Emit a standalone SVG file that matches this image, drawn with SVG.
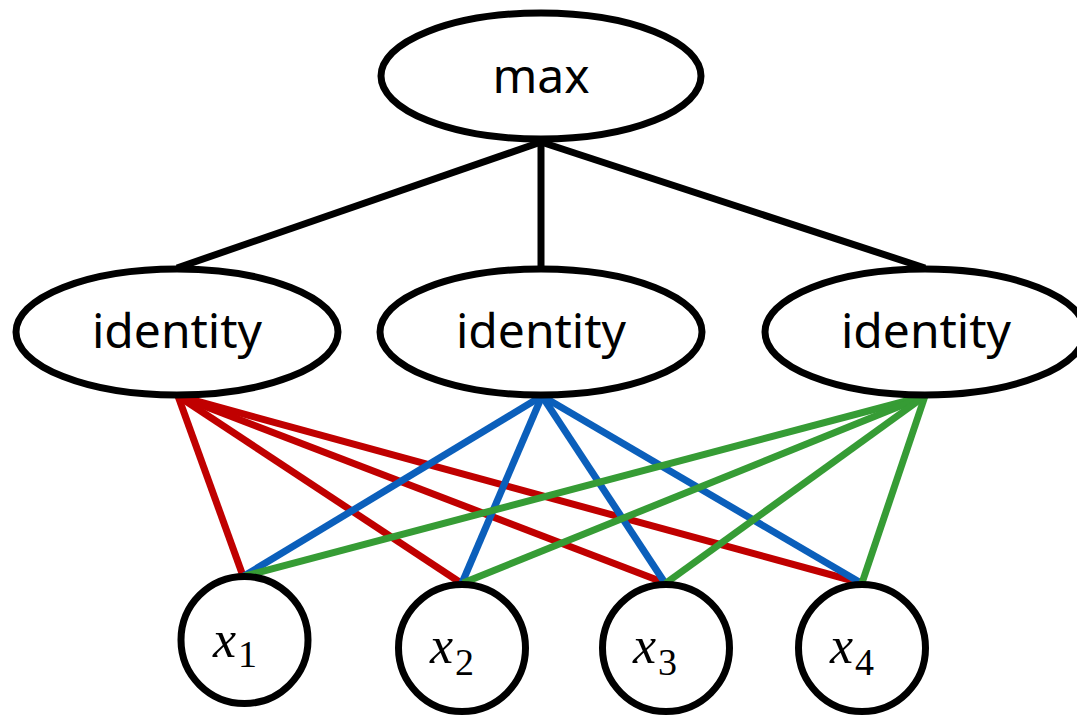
<svg xmlns="http://www.w3.org/2000/svg" width="1077" height="717" viewBox="0 0 1077 717">
<style>
.node{fill:#fff;stroke:#000;stroke-width:7}
.lbl{font-family:"Noto Sans",sans-serif;font-size:48px;fill:#000;text-anchor:middle}
.var{font-family:"Liberation Serif",serif;font-size:52px;font-style:italic;fill:#000}
.sub{font-family:"Liberation Serif",serif;font-size:38px;font-style:normal}
.blk{stroke:#000;stroke-width:7;fill:none}
.red{stroke:#c00000;stroke-width:7;fill:none}
.blu{stroke:#0b5fbb;stroke-width:7;fill:none}
.grn{stroke:#369c35;stroke-width:7;fill:none}
</style>
<rect width="1077" height="717" fill="#fff"/>
<g id="connectors">
<line class="blk" x1="541" y1="142" x2="177" y2="268"/>
<line class="blk" x1="541" y1="142" x2="541" y2="268"/>
<line class="blk" x1="541" y1="142" x2="925" y2="268"/>
<line class="red" x1="178" y1="396" x2="243" y2="576"/>
<line class="red" x1="178" y1="396" x2="461" y2="583"/>
<line class="red" x1="178" y1="396" x2="665" y2="583"/>
<line class="red" x1="178" y1="396" x2="861" y2="583"/>
<line class="blu" x1="542" y1="396" x2="244" y2="576"/>
<line class="blu" x1="542" y1="396" x2="462" y2="583"/>
<line class="blu" x1="542" y1="396" x2="665" y2="583"/>
<line class="blu" x1="542" y1="396" x2="861" y2="583"/>
<line class="grn" x1="925" y1="396" x2="245" y2="576"/>
<line class="grn" x1="925" y1="396" x2="463" y2="583"/>
<line class="grn" x1="925" y1="396" x2="666" y2="583"/>
<line class="grn" x1="925" y1="396" x2="862" y2="583"/>
</g>
<g id="max">
<ellipse class="node" cx="541" cy="76" rx="160" ry="63"/>
<text class="lbl" x="541" y="93">max</text>
</g>
<g id="identity1">
<ellipse class="node" cx="177" cy="332" rx="161" ry="63"/>
<text class="lbl" x="177" y="348">identity</text>
</g>
<g id="identity2">
<ellipse class="node" cx="541" cy="332" rx="161" ry="63"/>
<text class="lbl" x="541" y="348">identity</text>
</g>
<g id="identity3">
<ellipse class="node" cx="925" cy="332" rx="160" ry="63"/>
<text class="lbl" x="926" y="348">identity</text>
</g>
<g id="x1">
<circle class="node" cx="244.5" cy="640" r="63.5"/>
<text class="var" x="213" y="657">x<tspan class="sub" dx="2" dy="10">1</tspan></text>
</g>
<g id="x2">
<circle class="node" cx="462" cy="648" r="63.5"/>
<text class="var" x="430" y="663">x<tspan class="sub" dx="2" dy="12">2</tspan></text>
</g>
<g id="x3">
<circle class="node" cx="666" cy="648" r="63.5"/>
<text class="var" x="633" y="663">x<tspan class="sub" dx="2" dy="12">3</tspan></text>
</g>
<g id="x4">
<circle class="node" cx="862" cy="648" r="63.5"/>
<text class="var" x="830" y="663">x<tspan class="sub" dx="2" dy="12">4</tspan></text>
</g>
</svg>
